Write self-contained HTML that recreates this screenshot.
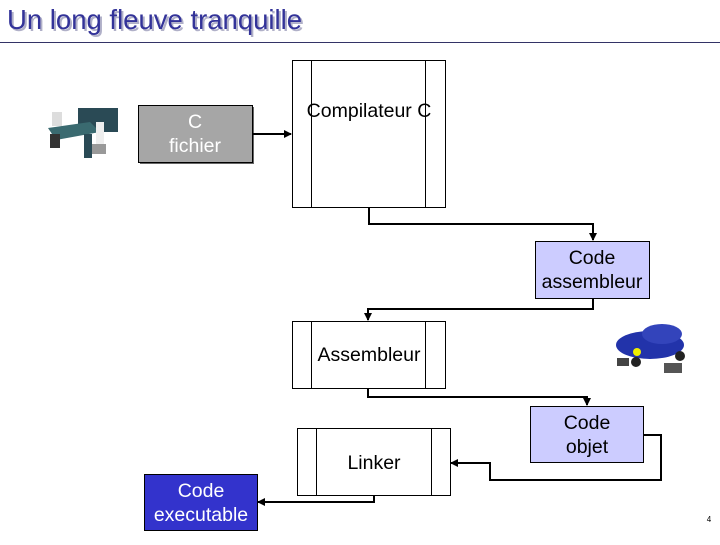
<!DOCTYPE html>
<html><head><style>
body{margin:0;width:720px;height:540px;background:#fff;overflow:hidden;font-family:"Liberation Sans",sans-serif;}
</style></head><body>
<svg width="720" height="540" xmlns="http://www.w3.org/2000/svg" font-family="Liberation Sans, sans-serif">
<defs><marker id="a" markerWidth="8" markerHeight="8" refX="7" refY="4" orient="auto" markerUnits="userSpaceOnUse"><path d="M0,0 L8,4 L0,8 z" fill="#000"/></marker></defs>
<text x="9" y="31" font-size="27.5" fill="#b0b0c8">Un long fleuve tranquille</text>
<text x="7" y="29" font-size="27.5" fill="#333399">Un long fleuve tranquille</text>
<line x1="0" y1="42.5" x2="720" y2="42.5" stroke="#333366" stroke-width="1"/>
<!-- desk icon -->
<g>
<rect x="78" y="108" width="40" height="24" fill="#2a4a55"/>
<polygon points="48,128 90,122 100,132 56,140" fill="#3a6a70"/>
<rect x="52" y="112" width="10" height="14" fill="#ddd"/>
<rect x="50" y="134" width="10" height="14" fill="#333"/>
<rect x="84" y="134" width="8" height="24" fill="#2a4a55"/>
<rect x="96" y="122" width="8" height="22" fill="#eee"/>
<rect x="92" y="144" width="14" height="10" fill="#999"/>
</g>
<!-- C fichier -->
<rect x="140" y="107" width="114" height="57" fill="#666"/>
<rect x="138.5" y="105.5" width="114" height="57" fill="#a6a6a6" stroke="#000"/>
<text x="195" y="128" font-size="19.5" fill="#fff" text-anchor="middle">C</text>
<text x="195" y="152" font-size="19.5" fill="#fff" text-anchor="middle">fichier</text>
<line x1="253" y1="134" x2="291" y2="134" stroke="#000" stroke-width="2" marker-end="url(#a)"/>
<!-- Compilateur -->
<rect x="292.5" y="60.5" width="153" height="147" fill="#fff" stroke="#000"/>
<line x1="311.5" y1="60" x2="311.5" y2="207" stroke="#000"/>
<line x1="425.5" y1="60" x2="425.5" y2="207" stroke="#000"/>
<text x="369" y="117" font-size="19.5" text-anchor="middle">Compilateur C</text>
<polyline points="369,207 369,224 593,224 593,240" fill="none" stroke="#000" stroke-width="2" marker-end="url(#a)"/>
<!-- Code assembleur -->
<rect x="535.5" y="241.5" width="114" height="57" fill="#ccccff" stroke="#000"/>
<text x="592" y="264" font-size="19.5" text-anchor="middle">Code</text>
<text x="592" y="288" font-size="19.5" text-anchor="middle">assembleur</text>
<polyline points="593,298 593,309 368,309 368,320" fill="none" stroke="#000" stroke-width="2" marker-end="url(#a)"/>
<!-- Assembleur -->
<rect x="292.5" y="321.5" width="153" height="67" fill="#fff" stroke="#000"/>
<line x1="311.5" y1="321" x2="311.5" y2="388" stroke="#000"/>
<line x1="425.5" y1="321" x2="425.5" y2="388" stroke="#000"/>
<text x="369" y="361" font-size="19.5" text-anchor="middle">Assembleur</text>
<!-- car -->
<g>
<ellipse cx="650" cy="345" rx="34" ry="14" fill="#2233aa"/>
<ellipse cx="662" cy="334" rx="20" ry="10" fill="#3344bb"/>
<circle cx="637" cy="352" r="4" fill="#ee0"/>
<circle cx="636" cy="362" r="5" fill="#222"/>
<circle cx="680" cy="356" r="5" fill="#222"/>
<rect x="664" y="363" width="18" height="10" fill="#555"/>
<rect x="617" y="358" width="12" height="8" fill="#444"/>
</g>
<polyline points="368,388 368,397 587,397 587,405" fill="none" stroke="#000" stroke-width="2" marker-end="url(#a)"/>
<!-- Code objet -->
<rect x="530.5" y="406.5" width="113" height="56" fill="#ccccff" stroke="#000"/>
<text x="587" y="429" font-size="19.5" text-anchor="middle">Code</text>
<text x="587" y="453" font-size="19.5" text-anchor="middle">objet</text>
<polyline points="643,435 661,435 661,480 490,480 490,463 451,463" fill="none" stroke="#000" stroke-width="2" marker-end="url(#a)"/>
<!-- Linker -->
<rect x="297.5" y="428.5" width="153" height="67" fill="#fff" stroke="#000"/>
<line x1="316.5" y1="428" x2="316.5" y2="496" stroke="#000"/>
<line x1="431.5" y1="428" x2="431.5" y2="496" stroke="#000"/>
<text x="374" y="469" font-size="19.5" text-anchor="middle">Linker</text>
<polyline points="374,496 374,502 258,502" fill="none" stroke="#000" stroke-width="2" marker-end="url(#a)"/>
<!-- Code executable -->
<rect x="144.5" y="474.5" width="113" height="56" fill="#3333cc" stroke="#000"/>
<text x="201" y="497" font-size="19.5" fill="#fff" text-anchor="middle">Code</text>
<text x="201" y="521" font-size="19.5" fill="#fff" text-anchor="middle">executable</text>
<text x="709" y="522" font-size="8" text-anchor="middle">4</text>
</svg>
</body></html>
